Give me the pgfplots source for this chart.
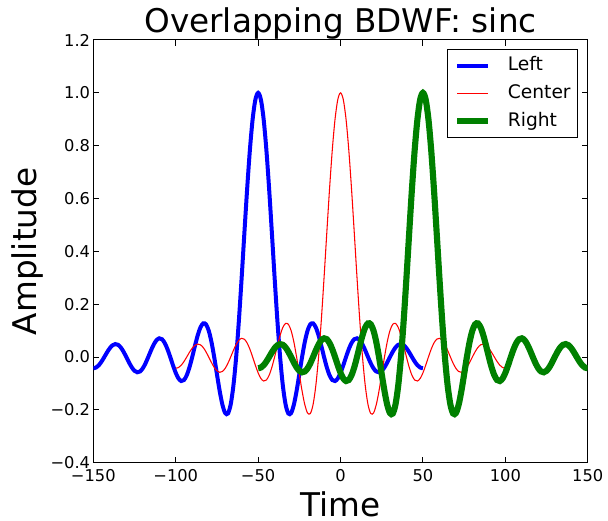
\documentclass[border=0pt]{standalone}
\usepackage{fontspec}
\setmainfont{DejaVu Sans}
\usepackage{pgfplots}
\usepackage{pgfplotstable}
\pgfplotsset{compat=1.18}
\pgfplotstableread{
tl tc tr y
-150 -100 -50 -0.04244
-148.333 -98.333 -48.333 -0.03987
-146.667 -96.667 -46.667 -0.03105
-145 -95 -45 -0.01710
-143.333 -93.333 -43.333 0
-141.667 -91.667 -41.667 0.01772
-140 -90 -40 0.03335
-138.333 -88.333 -38.333 0.04439
-136.667 -86.667 -36.667 0.04897
-135 -85 -35 0.04613
-133.333 -83.333 -33.333 0.03601
-131.667 -81.667 -31.667 0.01989
-130 -80 -30 0
-128.333 -78.333 -28.333 -0.02073
-126.667 -76.667 -26.667 -0.03914
-125 -75 -25 -0.05228
-123.333 -73.333 -23.333 -0.05787
-121.667 -71.667 -21.667 -0.05471
-120 -70 -20 -0.04287
-118.333 -68.333 -18.333 -0.02377
-116.667 -66.667 -16.667 0
-115 -65 -15 0.02499
-113.333 -63.333 -13.333 0.04738
-111.667 -61.667 -11.667 0.06358
-110 -60 -10 0.07074
-108.333 -58.333 -8.333 0.06722
-106.667 -56.667 -6.667 0.05296
-105 -55 -5 0.02953
-103.333 -53.333 -3.333 0
-101.667 -51.667 -1.667 -0.03144
-100 -50 0 -0.06002
-98.333 -48.333 1.667 -0.08113
-96.667 -46.667 3.333 -0.09095
-95 -45 5 -0.08713
-93.333 -43.333 6.667 -0.06925
-91.667 -41.667 8.333 -0.03898
-90 -40 10 0
-88.333 -38.333 11.667 0.04237
-86.667 -36.667 13.333 0.08185
-85 -35 15 0.11203
-83.333 -33.333 16.667 0.12732
-81.667 -31.667 18.333 0.12382
-80 -30 20 0.10004
-78.333 -28.333 21.667 0.05732
-76.667 -26.667 23.333 0
-75 -25 25 -0.06497
-73.333 -23.333 26.667 -0.12862
-71.667 -21.667 28.333 -0.18097
-70 -20 30 -0.21221
-68.333 -18.333 31.667 -0.21388
-66.667 -16.667 33.333 -0.18006
-65 -15 35 -0.10828
-63.333 -13.333 36.667 0
-61.667 -11.667 38.333 0.13921
-60 -10 40 0.30011
-58.333 -8.333 41.667 0.47053
-56.667 -6.667 43.333 0.63662
-55 -5 45 0.78422
-53.333 -3.333 46.667 0.90032
-51.667 -1.667 48.333 0.97450
-50 0 50 1
-48.333 1.667 51.667 0.97450
-46.667 3.333 53.333 0.90032
-45 5 55 0.78422
-43.333 6.667 56.667 0.63662
-41.667 8.333 58.333 0.47053
-40 10 60 0.30011
-38.333 11.667 61.667 0.13921
-36.667 13.333 63.333 0
-35 15 65 -0.10828
-33.333 16.667 66.667 -0.18006
-31.667 18.333 68.333 -0.21388
-30 20 70 -0.21221
-28.333 21.667 71.667 -0.18097
-26.667 23.333 73.333 -0.12862
-25 25 75 -0.06497
-23.333 26.667 76.667 0
-21.667 28.333 78.333 0.05732
-20 30 80 0.10004
-18.333 31.667 81.667 0.12382
-16.667 33.333 83.333 0.12732
-15 35 85 0.11203
-13.333 36.667 86.667 0.08185
-11.667 38.333 88.333 0.04237
-10 40 90 0
-8.333 41.667 91.667 -0.03898
-6.667 43.333 93.333 -0.06925
-5 45 95 -0.08713
-3.333 46.667 96.667 -0.09095
-1.667 48.333 98.333 -0.08113
0 50 100 -0.06002
1.667 51.667 101.667 -0.03144
3.333 53.333 103.333 0
5 55 105 0.02953
6.667 56.667 106.667 0.05296
8.333 58.333 108.333 0.06722
10 60 110 0.07074
11.667 61.667 111.667 0.06358
13.333 63.333 113.333 0.04738
15 65 115 0.02499
16.667 66.667 116.667 0
18.333 68.333 118.333 -0.02377
20 70 120 -0.04287
21.667 71.667 121.667 -0.05471
23.333 73.333 123.333 -0.05787
25 75 125 -0.05228
26.667 76.667 126.667 -0.03914
28.333 78.333 128.333 -0.02073
30 80 130 0
31.667 81.667 131.667 0.01989
33.333 83.333 133.333 0.03601
35 85 135 0.04613
36.667 86.667 136.667 0.04897
38.333 88.333 138.333 0.04439
40 90 140 0.03335
41.667 91.667 141.667 0.01772
43.333 93.333 143.333 0
45 95 145 -0.01710
46.667 96.667 146.667 -0.03105
48.333 98.333 148.333 -0.03987
50 100 150 -0.04244
}\sincdata
\begin{document}
\begin{tikzpicture}
\begin{axis}[
  name=ax,
  scale only axis,
  width=370.8pt, height=317pt,
  xmin=-150, xmax=150, ymin=-0.4, ymax=1.2,
  axis line style={black, line width=0.75pt},
  tick align=inside,
  tick pos=both,
  major tick length=4.5pt,
  every tick/.style={black, line width=0.75pt},
  minor tick num=0,
  xtick={-150,-100,-50,0,50,100,150},
  xticklabels={−150,−100,−50,0,50,100,150},
  ytick={-0.4,-0.2,0,0.2,0.4,0.6,0.8,1.0,1.2},
  yticklabels={−0.4,−0.2,0.0,0.2,0.4,0.6,0.8,1.0,1.2},
  tick label style={font=\fontsize{12.2}{14}\selectfont},
  xticklabel style={inner sep=0pt, yshift=-4.7pt},
  yticklabel style={inner sep=0pt, xshift=-2.25pt},
  every axis title shift=0pt,
  title={Overlapping BDWF: sinc},
  title style={font=\fontsize{24.5}{29}\selectfont, at={(axis description cs:0.5,1.0177)}, anchor=base, inner sep=0pt},
  xlabel={Time},
  xlabel style={font=\fontsize{24.5}{29}\selectfont, at={(axis description cs:0.5,-0.127)}, anchor=base, inner sep=0pt},
  ylabel={Amplitude},
  ylabel style={font=\fontsize{24.5}{29}\selectfont, at={(axis description cs:-0.1145,0.5)}, anchor=base, inner sep=0pt},
  legend cell align=left,
  legend image code/.code={\draw[#1] (0pt,0pt) -- (23pt,0pt);},
  legend style={at={(axis description cs:0.98,0.9787)}, anchor=north east,
    draw=black, line width=0.75pt,
    font=\fontsize{14}{16}\selectfont,
    inner xsep=5pt, inner ysep=5.5pt,
    row sep=7.2pt, column sep=12.5pt,
    nodes={inner sep=0pt, text height=10.5pt, text depth=3pt}},
]
\addplot[blue, line width=3pt, smooth] table[x=tl, y=y] {\sincdata};
\addlegendentry{Left}
\addplot[red, line width=0.8pt, smooth] table[x=tc, y=y] {\sincdata};
\addlegendentry{Center}
\addplot[color={rgb,1:red,0;green,0.5;blue,0}, line width=4.6pt, smooth] table[x=tr, y=y] {\sincdata};
\addlegendentry{Right}
\end{axis}
\pgfresetboundingbox
\path ([xshift=-70pt,yshift=-43.7pt]ax.south west) rectangle ([xshift=15.2pt,yshift=30pt]ax.north east);
\end{tikzpicture}
\end{document}
